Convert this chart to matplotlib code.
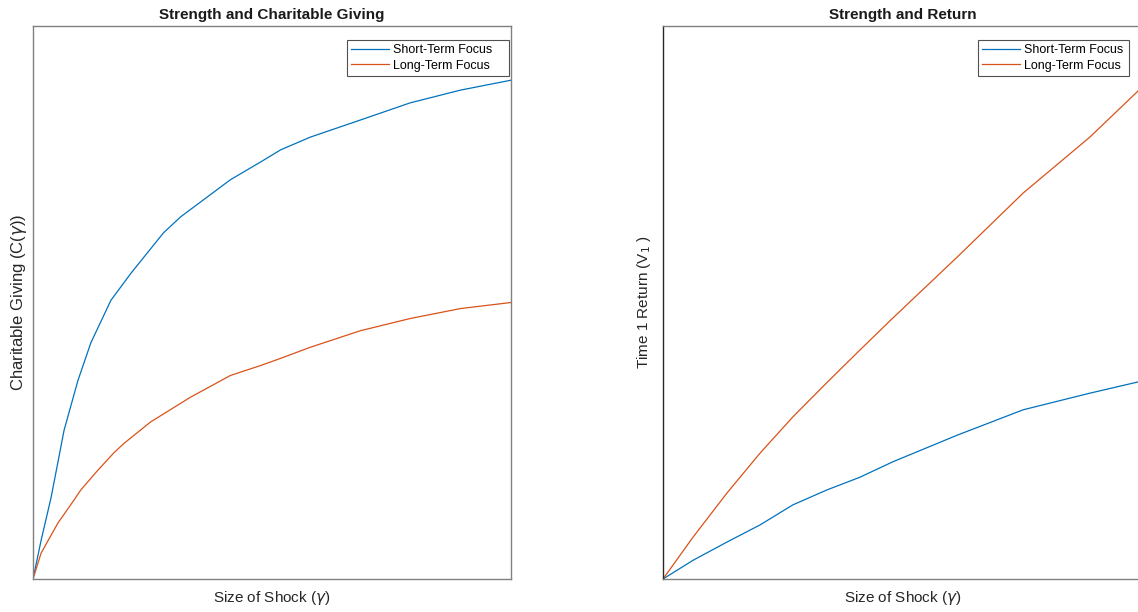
import matplotlib

matplotlib.use("Agg")
import matplotlib.pyplot as plt

plt.rcParams.update(
    {
        "font.family": ["Liberation Sans", "DejaVu Sans"],
        "mathtext.fontset": "dejavusans",
    }
)

# values (x and y scaled to the axes, 0..1)
giving_short_x = [0.0, 0.017, 0.038, 0.065, 0.094, 0.121, 0.163, 0.205, 0.273, 0.309,
                  0.413, 0.476, 0.518, 0.580, 0.685, 0.789, 0.894, 1.0]
giving_short_y = [0.0, 0.070, 0.148, 0.269, 0.359, 0.427, 0.504, 0.553, 0.626, 0.655,
                  0.722, 0.754, 0.776, 0.799, 0.830, 0.861, 0.884, 0.902]
giving_long_x = [0.0, 0.017, 0.052, 0.086, 0.100, 0.136, 0.169, 0.190, 0.246, 0.261,
                 0.330, 0.413, 0.476, 0.518, 0.580, 0.685, 0.789, 0.894, 1.0]
giving_long_y = [0.0, 0.047, 0.101, 0.143, 0.161, 0.197, 0.228, 0.245, 0.284, 0.292,
                 0.329, 0.368, 0.386, 0.399, 0.419, 0.449, 0.471, 0.489, 0.500]

return_short_x = [0.0, 0.063, 0.134, 0.203, 0.271, 0.342, 0.411, 0.480, 0.614, 0.752,
                  0.891, 0.990, 1.0]
return_short_y = [0.0, 0.034, 0.067, 0.098, 0.134, 0.161, 0.184, 0.212, 0.260, 0.306,
                  0.336, 0.356, 0.358]
return_long_x = [0.0, 0.063, 0.134, 0.203, 0.271, 0.342, 0.411, 0.480, 0.614, 0.752,
                 0.891, 0.990, 1.0]
return_long_y = [0.0, 0.076, 0.156, 0.228, 0.293, 0.355, 0.414, 0.472, 0.582, 0.698,
                 0.799, 0.881, 0.889]

labels = ["Short-Term Focus", "Long-Term Focus"]
colors = ["#0072BD", "#D95319"]

W, H = 1138, 612
fig = plt.figure(figsize=(W / 100, H / 100), dpi=100)

ax1 = fig.add_axes([33 / W, 33 / H, 478 / W, 553 / H])
ax2 = fig.add_axes([663 / W, 33 / H, 479 / W, 553 / H])

# axes, data, title, ylabel, ylabel size, ylabel pad, legend left/right px
panels = [
    (ax1, giving_short_x, giving_short_y, giving_long_x, giving_long_y,
     "Strength and Charitable Giving", r"Charitable Giving (C($\gamma$))", 12, 3, 347, 509),
    (ax2, return_short_x, return_short_y, return_long_x, return_long_y,
     "Strength and Return", r"Time 1 Return (V$_1$ )", 11, 7, 978, 1129),
]

for ax, sx, sy, lx, ly, title, ylabel, ysize, ypad, leg_l, leg_r in panels:
    ax.plot(sx, sy, color=colors[0], lw=0.9, label=labels[0])
    ax.plot(lx, ly, color=colors[1], lw=0.9, label=labels[1])
    ax.set_xlim(0, 1)
    ax.set_ylim(0, 1)
    ax.set_xticks([])
    ax.set_yticks([])
    for sp in ax.spines.values():
        sp.set_color("#808080")
        sp.set_linewidth(1.0)
    ax.set_title(title, fontsize=11, fontweight="bold", color="#1a1a1a", pad=5)
    ax.set_xlabel(r"Size of Shock ($\gamma$)", fontsize=11, color="#262626", labelpad=7)
    ax.set_ylabel(ylabel, fontsize=ysize, color="#262626", labelpad=ypad)
    leg = ax.legend(
        loc="upper left",
        bbox_to_anchor=(leg_l / W, 1 - 77 / H, (leg_r - leg_l) / W, 37 / H),
        bbox_transform=fig.transFigure,
        mode="expand",
        fontsize=9,
        frameon=True,
        fancybox=False,
        handlelength=3.0,
        handletextpad=0.35,
        borderpad=0.35,
        labelspacing=0.25,
        borderaxespad=0,
    )
    leg.get_frame().set_edgecolor("#262626")
    leg.get_frame().set_linewidth(0.8)

ax2.spines["left"].set_color("#262626")

fig.savefig("out.png", dpi=100)
